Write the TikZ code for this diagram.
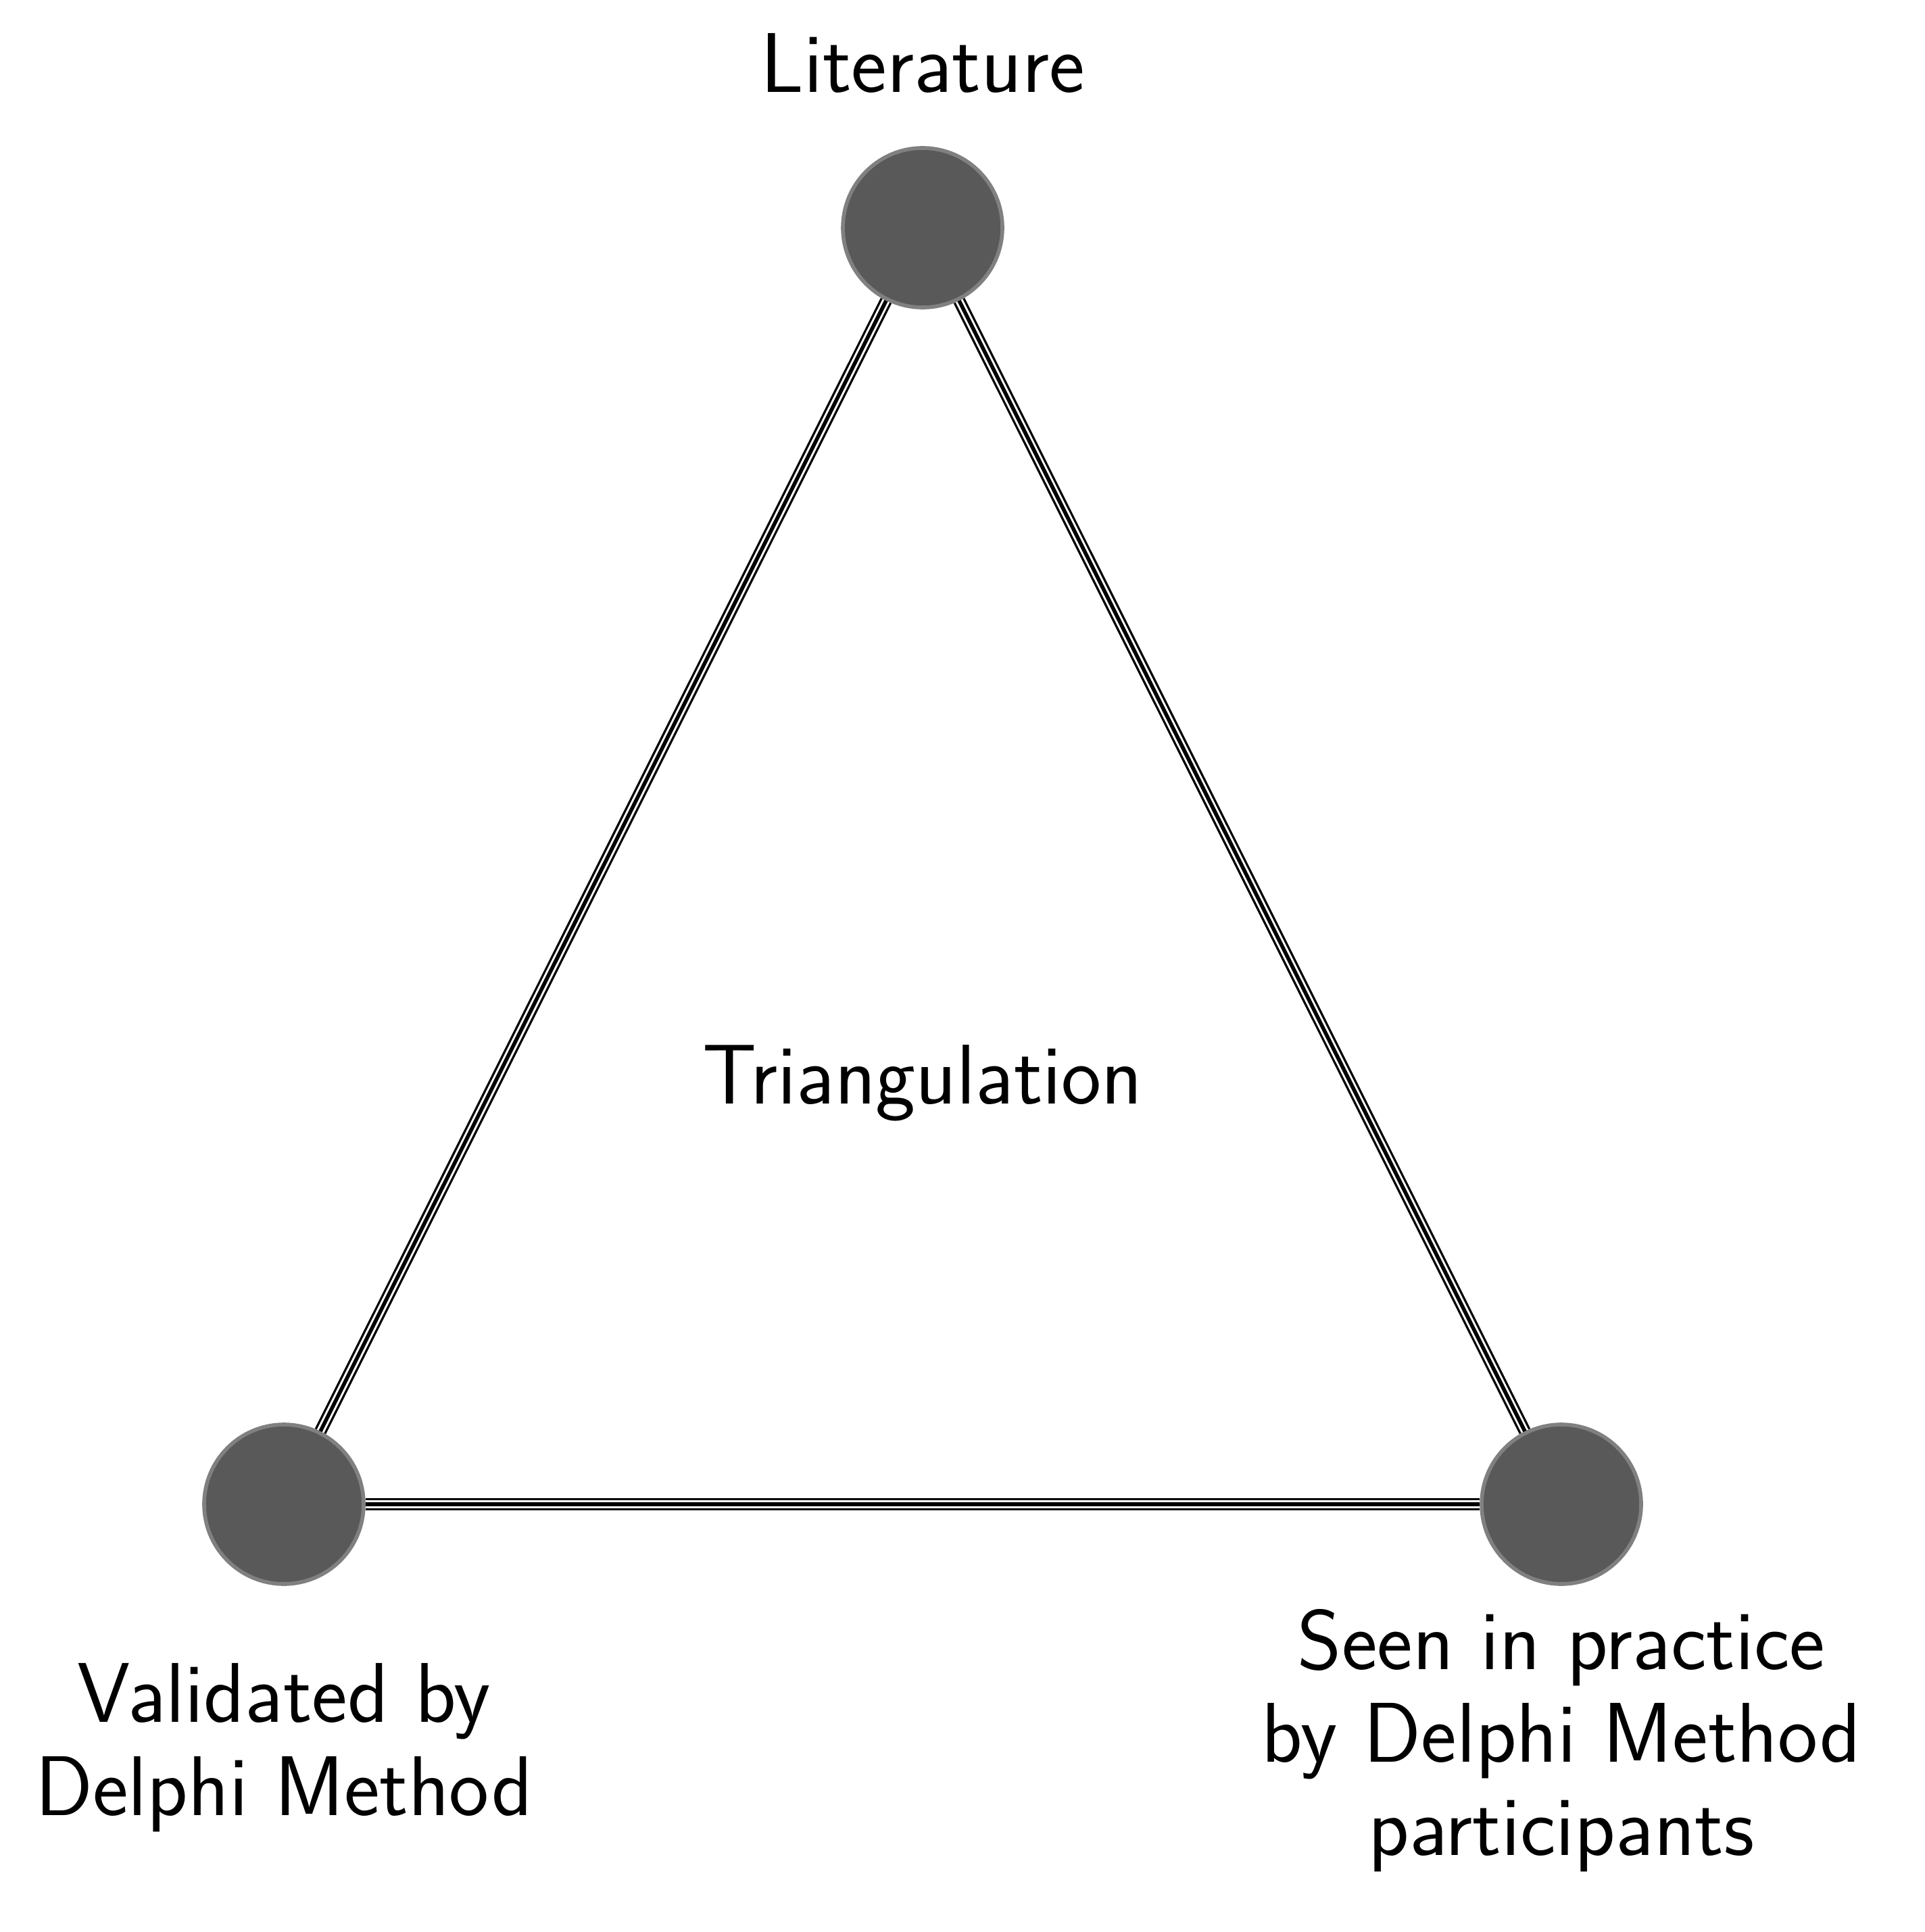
\documentclass[tikz,border=0pt]{standalone}
\usepackage{fontspec}
\usepackage{tikz}
\usetikzlibrary{positioning}

\begin{document}
\begin{tikzpicture}[
    font=\sffamily\fontsize{35.7}{39}\selectfont,
    source/.style={circle, draw=black!50, fill=black!65, line width=1.6pt, minimum size=2.36cm, inner sep=0pt},
    link/.style={draw=white, line width=3.3pt, preaction={draw=black, line width=5.2pt}, postaction={draw=black, line width=1.6pt}},
    lbl/.style={align=center, inner sep=0pt, anchor=base},
  ]
  \useasboundingbox (0,0) rectangle (28.47,-28.59);

  % ===== the three sources =====
  \node[source] (lit) at (13.65,-3.37) {};
  \node[source] (val) at (4.20,-22.26) {};
  \node[source] (prac) at (23.10,-22.26) {};

  % triangle sides
  \draw[link] (lit) -- (val);
  \draw[link] (lit) -- (prac);
  \draw[link] (val) -- (prac);

  % ===== labels =====
  \node[lbl] (littext) at (13.65,-1.37) {Literature};
  \node[lbl] (tri) at (13.65,-16.33) {Triangulation};
  \node[lbl] (valtext) at (4.20,-26.86) {Validated by\\Delphi Method};
  \node[lbl] (practext) at (23.10,-27.45) {Seen in practice\\by Delphi Method\\participants};

\end{tikzpicture}
\end{document}
